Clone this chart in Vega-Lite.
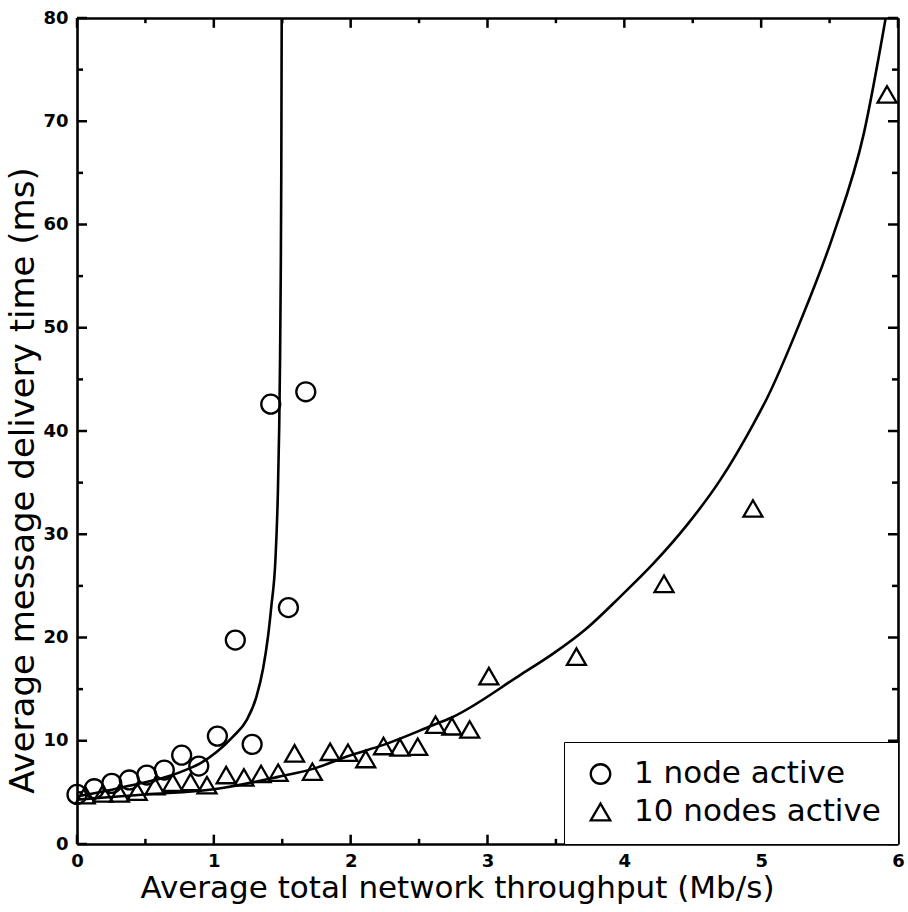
{
  "$schema": "https://vega.github.io/schema/vega-lite/v6.json",
  "width": 821,
  "height": 826,
  "autosize": {"type": "none"},
  "padding": {"left": 77, "top": 18, "right": 10, "bottom": 68},
  "background": "white",
  "config": {"view": {"stroke": null}, "font": "DejaVu Sans"},
  "datasets": {
    "xmajor": [{"v": 0}, {"v": 1}, {"v": 2}, {"v": 3}, {"v": 4}, {"v": 5}, {"v": 6}],
    "xminor": [{"v": 0.5}, {"v": 1.5}, {"v": 2.5}, {"v": 3.5}, {"v": 4.5}, {"v": 5.5}],
    "ymajor": [{"v": 0}, {"v": 10}, {"v": 20}, {"v": 30}, {"v": 40}, {"v": 50}, {"v": 60}, {"v": 70}, {"v": 80}],
    "yminor": [{"v": 5}, {"v": 15}, {"v": 25}, {"v": 35}, {"v": 45}, {"v": 55}, {"v": 65}, {"v": 75}],
    "curves": [
      {"series": "1 node active", "x": 0, "y": 4.6},
      {"series": "1 node active", "x": 0.2, "y": 5.1},
      {"series": "1 node active", "x": 0.4, "y": 5.7},
      {"series": "1 node active", "x": 0.6, "y": 6.3},
      {"series": "1 node active", "x": 0.68, "y": 6.6},
      {"series": "1 node active", "x": 0.8, "y": 7.2},
      {"series": "1 node active", "x": 0.9, "y": 7.8},
      {"series": "1 node active", "x": 1.02, "y": 8.9},
      {"series": "1 node active", "x": 1.14, "y": 10.4},
      {"series": "1 node active", "x": 1.24, "y": 12.0},
      {"series": "1 node active", "x": 1.31, "y": 14.2},
      {"series": "1 node active", "x": 1.36, "y": 17.0},
      {"series": "1 node active", "x": 1.395, "y": 20.0},
      {"series": "1 node active", "x": 1.42, "y": 23.0},
      {"series": "1 node active", "x": 1.45, "y": 27.5},
      {"series": "1 node active", "x": 1.467, "y": 33.5},
      {"series": "1 node active", "x": 1.478, "y": 40.5},
      {"series": "1 node active", "x": 1.484, "y": 47},
      {"series": "1 node active", "x": 1.489, "y": 55},
      {"series": "1 node active", "x": 1.493, "y": 65},
      {"series": "1 node active", "x": 1.496, "y": 80},
      {"series": "10 nodes active", "x": 0, "y": 4.3},
      {"series": "10 nodes active", "x": 0.5, "y": 4.8},
      {"series": "10 nodes active", "x": 1.0, "y": 5.3},
      {"series": "10 nodes active", "x": 1.47, "y": 6.5},
      {"series": "10 nodes active", "x": 1.73, "y": 7.3},
      {"series": "10 nodes active", "x": 2.0, "y": 8.6},
      {"series": "10 nodes active", "x": 2.24, "y": 9.6},
      {"series": "10 nodes active", "x": 2.6, "y": 11.5},
      {"series": "10 nodes active", "x": 2.73, "y": 12.2},
      {"series": "10 nodes active", "x": 3.238, "y": 16.36},
      {"series": "10 nodes active", "x": 3.482, "y": 18.46},
      {"series": "10 nodes active", "x": 3.726, "y": 20.9},
      {"series": "10 nodes active", "x": 3.969, "y": 23.94},
      {"series": "10 nodes active", "x": 4.213, "y": 27.17},
      {"series": "10 nodes active", "x": 4.457, "y": 30.88},
      {"series": "10 nodes active", "x": 4.7, "y": 35.24},
      {"series": "10 nodes active", "x": 4.944, "y": 40.7},
      {"series": "10 nodes active", "x": 5.04, "y": 43.1},
      {"series": "10 nodes active", "x": 5.28, "y": 50.4},
      {"series": "10 nodes active", "x": 5.53, "y": 59.1},
      {"series": "10 nodes active", "x": 5.75, "y": 68.8},
      {"series": "10 nodes active", "x": 5.91, "y": 80}
    ],
    "points": [
      {"series": "1 node active", "x": 0, "y": 4.8},
      {"series": "1 node active", "x": 0.126, "y": 5.35},
      {"series": "1 node active", "x": 0.254, "y": 5.87},
      {"series": "1 node active", "x": 0.382, "y": 6.2},
      {"series": "1 node active", "x": 0.51, "y": 6.68},
      {"series": "1 node active", "x": 0.638, "y": 7.16},
      {"series": "1 node active", "x": 0.765, "y": 8.6},
      {"series": "1 node active", "x": 0.89, "y": 7.55},
      {"series": "1 node active", "x": 1.026, "y": 10.45},
      {"series": "1 node active", "x": 1.157, "y": 19.75},
      {"series": "1 node active", "x": 1.28, "y": 9.65},
      {"series": "1 node active", "x": 1.416, "y": 42.6},
      {"series": "1 node active", "x": 1.545, "y": 22.9},
      {"series": "1 node active", "x": 1.672, "y": 43.8},
      {"series": "10 nodes active", "x": 0.06, "y": 4.74},
      {"series": "10 nodes active", "x": 0.19, "y": 4.9},
      {"series": "10 nodes active", "x": 0.31, "y": 4.9},
      {"series": "10 nodes active", "x": 0.44, "y": 5.06},
      {"series": "10 nodes active", "x": 0.57, "y": 5.6},
      {"series": "10 nodes active", "x": 0.7, "y": 5.95},
      {"series": "10 nodes active", "x": 0.83, "y": 6.0},
      {"series": "10 nodes active", "x": 0.95, "y": 5.7},
      {"series": "10 nodes active", "x": 1.09, "y": 6.68},
      {"series": "10 nodes active", "x": 1.22, "y": 6.45},
      {"series": "10 nodes active", "x": 1.345, "y": 6.78},
      {"series": "10 nodes active", "x": 1.47, "y": 6.9},
      {"series": "10 nodes active", "x": 1.59, "y": 8.78},
      {"series": "10 nodes active", "x": 1.72, "y": 7.0},
      {"series": "10 nodes active", "x": 1.85, "y": 8.93},
      {"series": "10 nodes active", "x": 1.98, "y": 8.84},
      {"series": "10 nodes active", "x": 2.11, "y": 8.23},
      {"series": "10 nodes active", "x": 2.24, "y": 9.49},
      {"series": "10 nodes active", "x": 2.36, "y": 9.36},
      {"series": "10 nodes active", "x": 2.49, "y": 9.42},
      {"series": "10 nodes active", "x": 2.62, "y": 11.55},
      {"series": "10 nodes active", "x": 2.74, "y": 11.4},
      {"series": "10 nodes active", "x": 2.87, "y": 11.1},
      {"series": "10 nodes active", "x": 3.01, "y": 16.26},
      {"series": "10 nodes active", "x": 3.65, "y": 18.15},
      {"series": "10 nodes active", "x": 4.29, "y": 25.2},
      {"series": "10 nodes active", "x": 4.94, "y": 32.5},
      {"series": "10 nodes active", "x": 5.92, "y": 72.6}
    ]
  },
  "layer": [
    {
      "data": {"name": "curves"},
      "mark": {"type": "line", "color": "black", "strokeWidth": 2.6, "clip": true, "interpolate": "monotone"},
      "encoding": {
        "x": {
          "field": "x", "type": "quantitative",
          "scale": {"domain": [0, 6], "nice": false, "zero": false},
          "axis": {
            "orient": "bottom",
            "values": [0, 1, 2, 3, 4, 5, 6],
            "format": "d",
            "ticks": false,
            "domainWidth": 2.6, "domainColor": "black",
            "grid": false,
            "labelFont": "DejaVu Sans", "labelFontWeight": "bold", "labelFontSize": 18, "labelColor": "black",
            "labelPadding": 8, "labelFlush": false, "labelOverlap": false, "labelBound": false,
            "title": "Average total network throughput (Mb/s)",
            "titleFont": "DejaVu Sans", "titleFontSize": 31, "titleFontWeight": "normal", "titleColor": "black",
            "titleX": 380, "titleY": 53, "titleAlign": "center", "titleBaseline": "alphabetic", "titleAnchor": null
          }
        },
        "y": {
          "field": "y", "type": "quantitative",
          "scale": {"domain": [0, 80], "nice": false, "zero": false},
          "axis": {
            "orient": "left",
            "values": [0, 10, 20, 30, 40, 50, 60, 70, 80],
            "format": "d",
            "ticks": false,
            "domainWidth": 2.6, "domainColor": "black",
            "grid": false,
            "labelFont": "DejaVu Sans", "labelFontWeight": "bold", "labelFontSize": 18, "labelColor": "black",
            "labelPadding": 9, "labelFlush": false, "labelOverlap": false, "labelBound": false,
            "title": "Average message delivery time (ms)",
            "titleFont": "DejaVu Sans", "titleFontSize": 34, "titleFontWeight": "normal", "titleColor": "black",
            "titleAngle": -90, "titleX": -44, "titleY": 462, "titleAlign": "center", "titleBaseline": "alphabetic", "titleAnchor": null
          }
        },
        "detail": {"field": "series", "type": "nominal"}
      }
    },
    {
      "data": {"name": "xmajor"},
      "mark": {"type": "rule", "color": "black", "strokeWidth": 2.5},
      "encoding": {
        "x": {"field": "v", "type": "quantitative", "axis": null},
        "y": {"datum": 0, "type": "quantitative", "axis": null},
        "y2": {"datum": 0.9}
      }
    },
    {
      "data": {"name": "xmajor"},
      "mark": {"type": "rule", "color": "black", "strokeWidth": 2.5},
      "encoding": {
        "x": {"field": "v", "type": "quantitative", "axis": null},
        "y": {"datum": 80, "type": "quantitative", "axis": null},
        "y2": {"datum": 79.05}
      }
    },
    {
      "data": {"name": "xminor"},
      "mark": {"type": "rule", "color": "black", "strokeWidth": 2.5},
      "encoding": {
        "x": {"field": "v", "type": "quantitative", "axis": null},
        "y": {"datum": 0, "type": "quantitative", "axis": null},
        "y2": {"datum": 0.5}
      }
    },
    {
      "data": {"name": "xminor"},
      "mark": {"type": "rule", "color": "black", "strokeWidth": 2.5},
      "encoding": {
        "x": {"field": "v", "type": "quantitative", "axis": null},
        "y": {"datum": 80, "type": "quantitative", "axis": null},
        "y2": {"datum": 79.5}
      }
    },
    {
      "data": {"name": "ymajor"},
      "mark": {"type": "rule", "color": "black", "strokeWidth": 2.5},
      "encoding": {
        "y": {"field": "v", "type": "quantitative", "axis": null},
        "x": {"datum": 0, "type": "quantitative", "axis": null},
        "x2": {"datum": 0.073}
      }
    },
    {
      "data": {"name": "ymajor"},
      "mark": {"type": "rule", "color": "black", "strokeWidth": 2.5},
      "encoding": {
        "y": {"field": "v", "type": "quantitative", "axis": null},
        "x": {"datum": 6, "type": "quantitative", "axis": null},
        "x2": {"datum": 5.927}
      }
    },
    {
      "data": {"name": "yminor"},
      "mark": {"type": "rule", "color": "black", "strokeWidth": 2.5},
      "encoding": {
        "y": {"field": "v", "type": "quantitative", "axis": null},
        "x": {"datum": 0, "type": "quantitative", "axis": null},
        "x2": {"datum": 0.044}
      }
    },
    {
      "data": {"name": "yminor"},
      "mark": {"type": "rule", "color": "black", "strokeWidth": 2.5},
      "encoding": {
        "y": {"field": "v", "type": "quantitative", "axis": null},
        "x": {"datum": 6, "type": "quantitative", "axis": null},
        "x2": {"datum": 5.956}
      }
    },
    {
      "data": {"name": "points"},
      "mark": {"type": "point", "filled": false, "color": "black", "strokeWidth": 2.3, "size": 360, "opacity": 1},
      "encoding": {
        "x": {
          "field": "x", "type": "quantitative",
          "scale": {"domain": [0, 6], "nice": false, "zero": false},
          "axis": {
            "orient": "top",
            "labels": false, "ticks": false,
            "domainWidth": 2.6, "domainColor": "black",
            "grid": false, "title": null
          }
        },
        "y": {
          "field": "y", "type": "quantitative",
          "scale": {"domain": [0, 80], "nice": false, "zero": false},
          "axis": {
            "orient": "right",
            "labels": false, "ticks": false,
            "domainWidth": 2.6, "domainColor": "black",
            "grid": false, "title": null
          }
        },
        "shape": {
          "field": "series", "type": "nominal",
          "scale": {"domain": ["1 node active", "10 nodes active"], "range": ["circle", "triangle-up"]},
          "legend": {
            "title": null,
            "orient": "bottom-right",
            "offset": 0,
            "padding": 17,
            "fillColor": "white",
            "strokeColor": "black",
            "symbolSize": 380,
            "symbolStrokeWidth": 2.3,
            "symbolStrokeColor": "black",
            "symbolFillColor": "transparent",
            "symbolOffset": 4,
            "labelOffset": 18,
            "labelFont": "DejaVu Sans",
            "labelFontSize": 31,
            "labelColor": "black",
            "labelLimit": 400,
            "clipHeight": 30,
            "rowPadding": 7,
            "encode": {"legend": {"update": {"strokeWidth": {"value": 2.6}}}}
          }
        }
      }
    }
  ],
  "resolve": {"axis": {"x": "independent", "y": "independent"}}
}
